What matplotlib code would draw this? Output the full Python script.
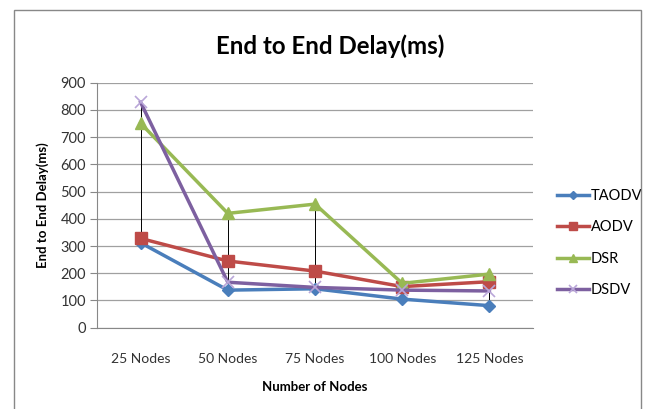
import matplotlib
matplotlib.use("Agg")
import matplotlib.pyplot as plt
from matplotlib.patches import Rectangle
import numpy as np

# data
categories = ["25 Nodes", "50 Nodes", "75 Nodes", "100 Nodes", "125 Nodes"]
taodv = [312, 138, 143, 105, 81]
aodv = [328, 245, 208, 151, 169]
dsr = [751, 420, 454, 163, 197]
dsdv = [828, 167, 148, 138, 135]
yticks = [0, 100, 200, 300, 400, 500, 600, 700, 800, 900]

plt.rcParams["font.family"] = ["Lato", "DejaVu Sans"]

fig = plt.figure(figsize=(6.46, 4.09), dpi=100)
fig.patches.append(Rectangle((14 / 646, -0.05), 627 / 646, 1.05 - 10 / 409,
                             transform=fig.transFigure, fill=False,
                             edgecolor="#888888", linewidth=1.0))

ax = fig.add_axes([97 / 646, 1 - 327.7 / 409, 436 / 646, 245 / 409])
x = np.arange(len(categories))

# high-low lines
allv = np.array([taodv, aodv, dsr, dsdv])
ax.vlines(x, allv.min(axis=0), allv.max(axis=0), color="black", linewidth=0.7, zorder=2)

series = [
    ("TAODV", taodv, "#4A7EBB", "D", 6),
    ("AODV", aodv, "#BE4B48", "s", 8),
    ("DSR", dsr, "#98B954", "^", 8),
    ("DSDV", dsdv, "#7D60A0", "x", 8),
]
for name, vals, col, mk, ms in series:
    kw = dict(markeredgecolor=col, markerfacecolor=col)
    if mk == "x":
        kw = dict(markeredgecolor="#B9A6D8", markeredgewidth=1.2)
    ax.plot(x, vals, color=col, linewidth=2.5, marker=mk, markersize=ms,
            label=name, zorder=3, **kw)

ax.set_xlim(-0.5, 4.5)
ax.set_ylim(0, 900)
ax.set_yticks(yticks)
ax.set_xticks(x)
ax.set_xticklabels(categories)
ax.yaxis.grid(True, color="#A0A0A0", linewidth=0.9)
ax.set_axisbelow(True)
for s in ["top", "right"]:
    ax.spines[s].set_visible(False)
for s in ["left", "bottom"]:
    ax.spines[s].set_color("#888888")
ax.tick_params(axis="y", length=5, color="#888888", labelsize=10.5, pad=3,
               labelcolor="#333333")
ax.tick_params(axis="x", length=0, labelsize=10, pad=18, labelcolor="#333333")

ax.set_ylabel("End to End Delay(ms)", fontsize=9.5, fontweight="bold", labelpad=8)
ax.set_xlabel("Number of Nodes", fontsize=9.5, fontweight="bold", labelpad=12)
fig.text(330 / 646, 1 - 46 / 409, "End to End Delay(ms)", ha="center", va="center",
         fontsize=17.3, fontweight="bold")

ax.legend(loc="center left", bbox_to_anchor=(1.025, 0.345), frameon=False,
          fontsize=10.5, handlelength=2.2, handletextpad=0.1, labelspacing=1.2,
          markerscale=0.75)

fig.savefig("out.png", dpi=100)
